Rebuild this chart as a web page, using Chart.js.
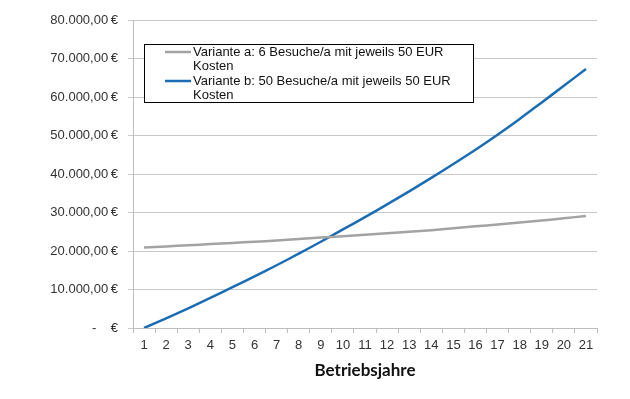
<!DOCTYPE html>
<html>
<head>
<meta charset="utf-8">
<script src="https://cdn.jsdelivr.net/npm/chart.js@4/dist/chart.umd.min.js"></script>
<style>
  html, body { margin: 0; padding: 0; background: #fff; }
  #wrap { width: 630px; height: 399px; }
</style>
</head>
<body>
<div id="wrap"><canvas id="costChart" width="630" height="399"></canvas></div>
<script>
// Data
const years = ['1','2','3','4','5','6','7','8','9','10','11','12','13','14','15','16','17','18','19','20','21'];
const variantA = [20900, 21200, 21500, 21800, 22100, 22400, 22700, 23100, 23500, 23800, 24200,
                  24600, 25000, 25400, 25900, 26400, 26900, 27400, 27900, 28500, 29100];
const variantB = [0, 2500, 5100, 7800, 10600, 13400, 16300, 19300, 22400, 25600, 28800,
                  32100, 35500, 39000, 42600, 46300, 50200, 54300, 58600, 62900, 67300];
const labelA = ['Variante a: 6 Besuche/a mit jeweils 50 EUR', 'Kosten'];
const labelB = ['Variante b: 50 Besuche/a mit jeweils 50 EUR', 'Kosten'];
const yTicks = [0, 10000, 20000, 30000, 40000, 50000, 60000, 70000, 80000];

const FONT = '"Liberation Sans", Arial, sans-serif';

function euro(v) {
  if (v === 0) return '-    €';
  return v.toLocaleString('de-DE', { minimumFractionDigits: 2, maximumFractionDigits: 2 }) + '\u2009€';
}

// Boxed legend inside the plot, with wrapped labels
const boxLegend = {
  id: 'boxLegend',
  afterDraw(chart) {
    const ctx = chart.ctx;
    const area = chart.chartArea;
    const x = area.left + 11, y = area.top + 24, w = 329, h = 58;
    const lh = 14.5;
    ctx.save();
    ctx.fillStyle = '#fff';
    ctx.fillRect(x, y, w, h);
    ctx.strokeStyle = '#000';
    ctx.lineWidth = 1;
    ctx.strokeRect(x + 0.5, y + 0.5, w, h);
    ctx.font = '13px ' + FONT;
    ctx.textBaseline = 'middle';
    ctx.fillStyle = '#111';
    let ty = y + 8;
    chart.data.datasets.forEach(ds => {
      ctx.strokeStyle = ds.borderColor;
      ctx.lineWidth = 2.5;
      ctx.beginPath();
      ctx.moveTo(x + 21, ty);
      ctx.lineTo(x + 47, ty);
      ctx.stroke();
      ds.label.forEach((line, i) => {
        ctx.fillText(line, x + 49, ty + i * lh);
      });
      ty += ds.label.length * lh;
    });
    ctx.restore();
  }
};

const ctx = document.getElementById('costChart').getContext('2d');
const costChart = new Chart(ctx, {
  type: 'line',
  data: {
    labels: years,
    datasets: [
      {
        label: labelA,
        data: variantA,
        borderColor: '#a3a3a3',
        borderWidth: 2.5,
        pointRadius: 0,
        tension: 0.25
      },
      {
        label: labelB,
        data: variantB,
        borderColor: '#1a6db5',
        borderWidth: 2.5,
        pointRadius: 0,
        tension: 0.25
      }
    ]
  },
  options: {
    responsive: false,
    animation: false,
    layout: { padding: { top: 20, right: 33, bottom: 18, left: 0 } },
    plugins: {
      legend: { display: false },
      tooltip: { enabled: false }
    },
    scales: {
      x: {
        offset: true,
        grid: {
          display: true,
          drawOnChartArea: false,
          offset: true,
          tickLength: 5,
          color: '#bdbdbd'
        },
        border: { color: '#bdbdbd' },
        ticks: {
          color: '#333',
          font: { family: FONT, size: 13 },
          padding: 5,
          maxRotation: 0,
          autoSkip: false
        },
        title: {
          display: true,
          text: 'Betriebsjahre',
          color: '#111',
          font: { family: 'Lato, "Open Sans", sans-serif', size: 17, weight: 'bold' },
          padding: { top: 2, bottom: 0 }
        }
      },
      y: {
        min: 0,
        max: 80000,
        afterBuildTicks(scale) {
          scale.ticks = yTicks.map(v => ({ value: v }));
        },
        afterFit(scale) {
          scale.width = 133;
        },
        grid: {
          color: '#c8c8c8',
          tickLength: 5
        },
        border: { color: '#bdbdbd' },
        ticks: {
          color: '#333',
          font: { family: FONT, size: 13 },
          padding: 10,
          callback: v => euro(v)
        }
      }
    }
  },
  plugins: [boxLegend]
});
</script>
</body>
</html>
